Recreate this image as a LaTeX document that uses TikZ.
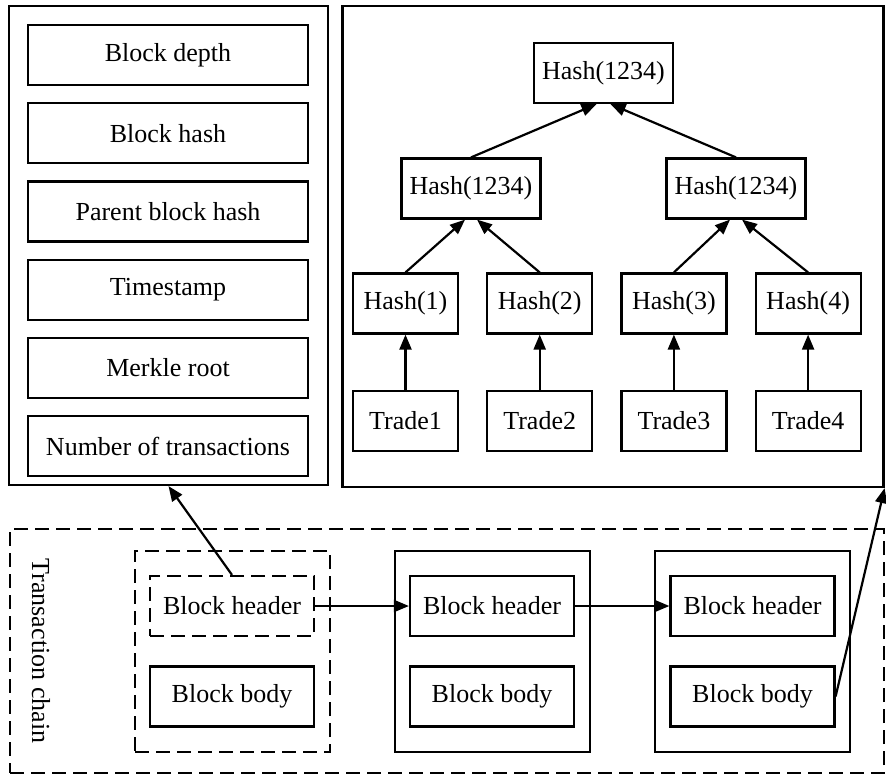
\documentclass[tikz,border=0pt]{standalone}
\usepackage{fontspec}
\setmainfont{Liberation Serif}
\usetikzlibrary{arrows.meta, positioning}

\begin{document}
\begin{tikzpicture}[
    x=1pt, y=-1pt,
    node distance=16pt,
    every node/.style={font=\fontsize{26}{31}\selectfont},
    box/.style={rectangle, draw, line width=2.2pt, minimum height=60pt, inner sep=0pt},
    field/.style={box, minimum width=280pt},
    hashbox/.style={box, minimum width=139pt},
    leaf/.style={box, minimum width=105pt},
    part/.style={box, minimum width=164pt},
    block/.style={rectangle, draw, line width=2.2pt, minimum width=195pt, minimum height=201pt},
    panel/.style={rectangle, draw, line width=2.2pt},
    loose/.style={dash pattern=on 14pt off 7pt},
    arrow/.style={-{Triangle[length=15pt,width=12pt]}, line width=2.2pt}
  ]
    \useasboundingbox (0,0) rectangle (886,777);

    % block header fields
    \node[panel, minimum width=319pt, minimum height=479pt] (header) at (168.5,245.5) {};
    \node[field] (depth) at (168,55) {Block depth};
    \node[field, below=of depth] (bhash) {Block hash};
    \node[field, below=of bhash] (parent) {Parent block hash};
    \node[field, below=of parent] (stamp) {Timestamp};
    \node[field, below=of stamp] (root) {Merkle root};
    \node[field, below=of root] (count) {Number of transactions};

    % merkle tree
    \node[panel, minimum width=541pt, minimum height=481pt] (tree) at (613,246.5) {};
    \node[hashbox] (top) at (603.5,73) {Hash(1234)};
    \node[hashbox] (m1) at (471,188.5) {Hash(1234)};
    \node[hashbox] (m2) at (736,188.5) {Hash(1234)};
    \node[leaf] (h1) at (405.5,303.5) {Hash(1)};
    \node[leaf, right=27pt of h1] (h2) {Hash(2)};
    \node[leaf, right=27pt of h2] (h3) {Hash(3)};
    \node[leaf, right=27pt of h3] (h4) {Hash(4)};
    \node[leaf, below=55pt of h1] (t1) {Trade1};
    \node[leaf, below=55pt of h2] (t2) {Trade2};
    \node[leaf, below=55pt of h3] (t3) {Trade3};
    \node[leaf, below=55pt of h4] (t4) {Trade4};
    \foreach \i in {1,...,4}
      \draw[arrow] (t\i) -- (h\i);
    \draw[arrow] (h1.north) -- ([xshift=-6pt]m1.south);
    \draw[arrow] (h2.north) -- ([xshift=6pt]m1.south);
    \draw[arrow] (h3.north) -- ([xshift=-6pt]m2.south);
    \draw[arrow] (h4.north) -- ([xshift=6pt]m2.south);
    \draw[arrow] (m1.north) -- ([xshift=-7pt]top.south);
    \draw[arrow] (m2.north) -- ([xshift=7pt]top.south);

    % transaction chain
    \node[panel, loose, minimum width=874pt, minimum height=244pt] (chain) at (447,651) {};
    \node[rotate=-90] (chainlabel) at (41,651) {Transaction chain};
    \node[block, loose] (b1) at (232.5,651.5) {};
    \node[block] (b2) at (492.5,651.5) {};
    \node[block] (b3) at (752.5,651.5) {};
    \node[part, loose] (hd1) at (232,606) {Block header};
    \node[part] (bd1) at (232,696.5) {Block body};
    \node[part] (hd2) at (492,606) {Block header};
    \node[part] (bd2) at (492,696.5) {Block body};
    \node[part] (hd3) at (752.5,606) {Block header};
    \node[part] (bd3) at (752.5,696.5) {Block body};
    \draw[arrow] (hd1) -- (hd2);
    \draw[arrow] (hd2) -- (hd3);
    \draw[arrow] (hd1.north) -- (header.south);
    \draw[arrow] (bd3.east) -- (tree.south east);
  \end{tikzpicture}
\end{document}
